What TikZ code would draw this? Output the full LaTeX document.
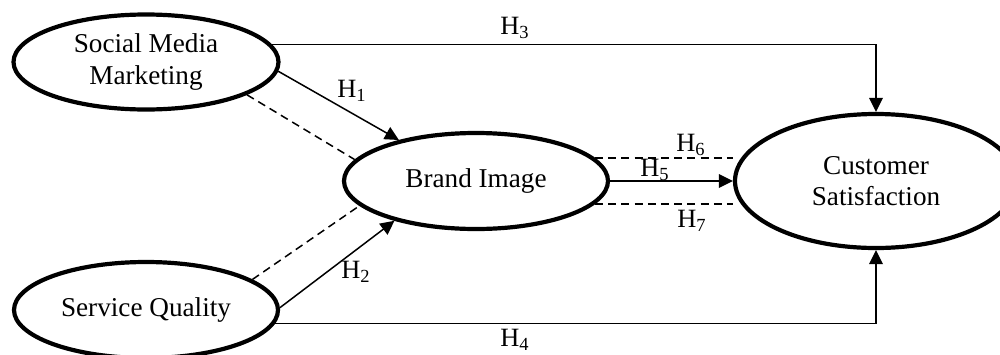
\documentclass[tikz,border=0pt]{standalone}
\usepackage{fontspec}
\setmainfont{Liberation Serif}
\usetikzlibrary{shapes.geometric,arrows.meta,backgrounds}
\begin{document}
\begin{tikzpicture}[x=0.5pt,y=-0.5pt,
  construct/.style={ellipse,draw,line width=2.1pt,fill=white,inner sep=0pt,align=center,
    font=\fontsize{13.6pt}{15.8pt}\selectfont},
  link/.style={line width=0.75pt},
  arr/.style={link,-{Triangle[length=7pt,width=6.8pt]}},
  dashlink/.style={link,dash pattern=on 4pt off 2.6pt},
  hlab/.style={inner sep=0pt,font=\fontsize{13.2pt}{15pt}\selectfont}]
\useasboundingbox (0,0) rectangle (1000,354);
\node[construct,minimum width=132.5pt,minimum height=47.5pt] (smm) at (146,62) {Social Media\\Marketing};
\node[construct,minimum width=132pt,minimum height=48pt] (sq) at (146,310) {Service Quality};
\node[construct,minimum width=132pt,minimum height=48pt] (bi) at (476,181) {Brand Image};
\node[construct,minimum width=141pt,minimum height=67pt] (cs) at (876,181) {Customer\\Satisfaction};
\draw[arr] (smm.8.7) -| (cs.north);
\draw[arr] (sq.-6.1) -| (cs.south);
\draw[arr] (smm.-4.4) -- (bi.152.9);
\draw[arr] (sq.1) -- (bi.206.8);
\draw[arr] (bi.east) -- (cs.west);
\begin{scope}[on background layer]
\draw[dashlink] (smm.-18) -- (bi.170);
\draw[dashlink] (sq.16.7) -- (bi.192.5);
\draw[dashlink] (bi.11) -- (bi.11 -| cs.west);
\draw[dashlink] (bi.-11) -- (bi.-11 -| cs.west);
\end{scope}
\node[hlab] (h1) at (352,91) {H\textsubscript{1}};
\node[hlab] (h2) at (356,272) {H\textsubscript{2}};
\node[hlab] (h3) at (515,28) {H\textsubscript{3}};
\node[hlab] (h4) at (515,340) {H\textsubscript{4}};
\node[hlab] (h5) at (655,170) {H\textsubscript{5}};
\node[hlab] (h6) at (691,145) {H\textsubscript{6}};
\node[hlab] (h7) at (692,221) {H\textsubscript{7}};
\end{tikzpicture}
\end{document}
